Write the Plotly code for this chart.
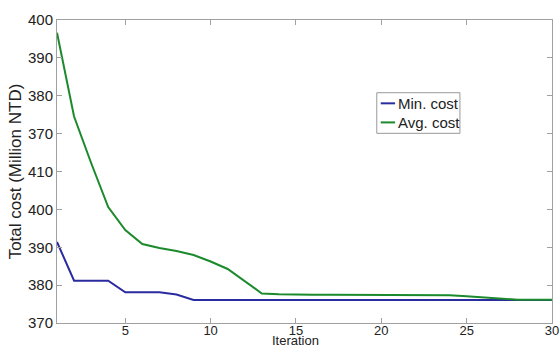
import plotly.graph_objects as go

iterations = list(range(1, 31))
min_cost = [380.69, 375.59, 375.59, 375.59, 374.05, 374.05, 374.05, 373.76] + [373.04] * 22
avg_cost = [408.32, 397.26, 391.12, 385.31, 382.28, 380.43, 379.90, 379.51, 378.98, 378.12,
            377.13, 375.48, 373.90, 373.79, 373.74, 373.74, 373.74, 373.74, 373.74, 373.74,
            373.74, 373.74, 373.74, 373.67, 373.53, 373.41, 373.24, 373.08, 373.08, 373.08]

y_tickvals = [370, 375, 380, 385, 390, 395, 400, 405, 410]
y_ticktext = ["370", "380", "390", "400", "410", "370", "380", "390", "400"]
x_tickvals = [5, 10, 15, 20, 25, 30]

blue = "#2b2ba0"
green = "#1b8a2c"
font_family = "Liberation Sans"

fig = go.Figure()
fig.add_trace(go.Scatter(x=iterations, y=min_cost, mode="lines", name="Min. cost",
                         line=dict(color=blue, width=2)))
fig.add_trace(go.Scatter(x=iterations, y=avg_cost, mode="lines", name="Avg. cost",
                         line=dict(color=green, width=2)))

axis_common = dict(showgrid=False, zeroline=False, showline=True, linecolor="#a0a0a0",
                   linewidth=1, mirror="ticks", ticks="inside", ticklen=5, automargin=False,
                   tickcolor="#a0a0a0")

fig.update_layout(
    width=560, height=349,
    margin=dict(l=57, r=8, t=20, b=26),
    paper_bgcolor="white", plot_bgcolor="white",
    showlegend=False,
    xaxis=dict(range=[1, 30], tickvals=x_tickvals, **axis_common, ticklabelstandoff=-5,
               tickfont=dict(family=font_family, size=13, color="#222")),
    yaxis=dict(range=[370, 410], tickvals=y_tickvals, ticktext=y_ticktext, **axis_common,
               tickfont=dict(family=font_family, size=15, color="#222"),
               title=dict(text="Total cost (Million NTD)", font=dict(family=font_family, size=17, color="#222"), standoff=2)),
)

# x-axis title
fig.add_annotation(xref="paper", yref="paper", x=0.481, y=-0.087, xanchor="center", yanchor="bottom",
                   showarrow=False, font=dict(family=font_family, size=13, color="#222"), text="Iteration",
                   borderpad=0)

# legend box
fig.add_shape(type="rect", xref="paper", yref="paper", x0=0.646, x1=0.814, y0=0.626, y1=0.76,
              line=dict(color="#999", width=1), fillcolor="white")
for yy, col, label in [(0.725, blue, "Min. cost"), (0.662, green, "Avg. cost")]:
    fig.add_shape(type="line", xref="paper", yref="paper", x0=0.654, x1=0.683, y0=yy, y1=yy,
                  line=dict(color=col, width=2))
    fig.add_annotation(xref="paper", yref="paper", x=0.685, y=yy, xanchor="left", yanchor="middle",
                       showarrow=False, font=dict(family=font_family, size=15, color="#222"),
                       text=label)

fig.write_html("out.html")
